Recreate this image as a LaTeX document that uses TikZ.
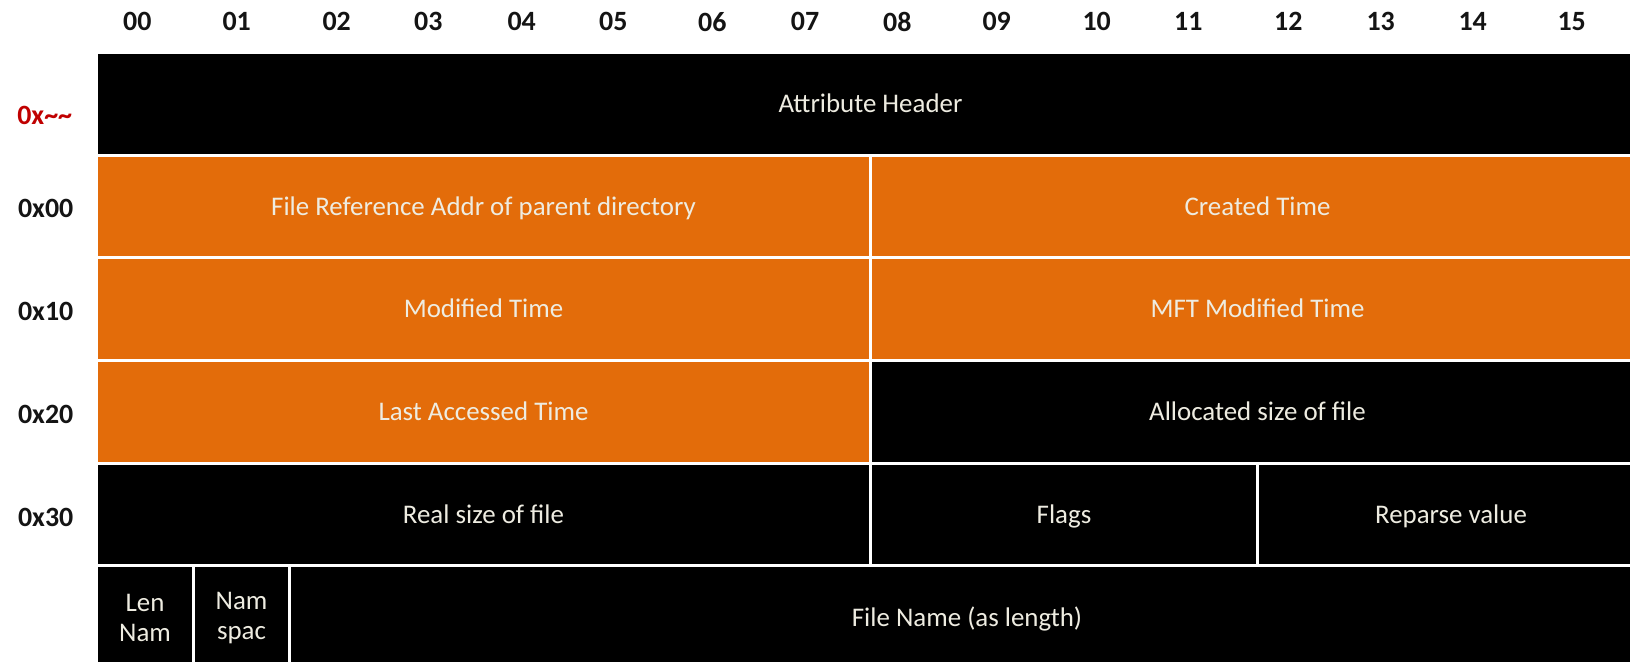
\documentclass[tikz,border=0pt]{standalone}
\usepackage{fontspec}
\setmainfont{Carlito}
\definecolor{orng}{HTML}{E36C0A}
\definecolor{celltxt}{HTML}{EEECE1}
\definecolor{lblred}{HTML}{C00000}
\definecolor{lbldark}{HTML}{141414}
\begin{document}
\begin{tikzpicture}[x=1bp,y=-1bp,
  cell/.style={draw=none, inner sep=0pt, outer sep=0pt, text=celltxt,
    font=\fontsize{27}{31}\selectfont, align=center,
    text height=17.4bp, text depth=0pt},
  twoline/.style={text height=, text depth=},
  blk/.style={cell, fill=black},
  org/.style={cell, fill=orng},
  collbl/.style={font=\bfseries\fontsize{28}{30}\selectfont, text=lbldark, inner sep=0pt, outer sep=0pt}]
\fill[white] (0,0) rectangle (1630,662);
\useasboundingbox (0,0) rectangle (1630,662);

% column labels
\foreach \lab/\xx in {00/137.3, 01/236.7, 02/336.7, 03/428.3, 04/521.7, 05/613.3, 06/712.3, 07/805.0,
                     08/897.3, 09/996.7, 10/1096.7, 11/1188.3, 12/1288.3, 13/1380.7, 14/1472.7, 15/1571.7}
  \node[collbl] (c\lab) at (\xx,21.7) {\lab};

% row labels
\node[collbl, text=lblred] (rhdr) at (44.7,115.7) {0x\char`\~\char`\~};
\node[collbl] (r00) at (45.7,208.3) {0x00};
\node[collbl] (r10) at (45.7,311.0) {0x10};
\node[collbl] (r20) at (45.7,414.0) {0x20};
\node[collbl] (r30) at (45.7,517.3) {0x30};

% cells
\node[blk, minimum width=1545bp, minimum height=100bp] (hdr) at (870.5,104) {Attribute Header};

\node[org, minimum width=771bp, minimum height=99bp] (fref) at (483.5,206.5) {File Reference Addr of parent directory};
\node[org, minimum width=771bp, minimum height=99bp] (ctime) at (1257.5,206.5) {Created Time};

\node[org, minimum width=771bp, minimum height=100bp] (mtime) at (483.5,309) {Modified Time};
\node[org, minimum width=771bp, minimum height=100bp] (mftm) at (1257.5,309) {MFT Modified Time};

\node[org, minimum width=771bp, minimum height=100bp] (atime) at (483.5,412) {Last Accessed Time};
\node[blk, minimum width=771bp, minimum height=100bp] (alloc) at (1257.5,412) {Allocated size of file};

\node[blk, minimum width=771bp, minimum height=99bp] (rsize) at (483.5,514.5) {Real size of file};
\node[blk, minimum width=384bp, minimum height=99bp] (flags) at (1064,514.5) {Flags};
\node[blk, minimum width=384bp, minimum height=99bp] (repar) at (1451,514.5) {Reparse value};

\node[blk, twoline, minimum width=94bp, minimum height=102bp] (lennam) at (145,618) {Len\\Nam};
\node[blk, twoline, minimum width=93bp, minimum height=102bp] (namspac) at (241.5,618) {Nam\\spac};
\node[blk, minimum width=1352bp, minimum height=102bp] (fname) at (967,618) {File Name (as length)};
\end{tikzpicture}
\end{document}
